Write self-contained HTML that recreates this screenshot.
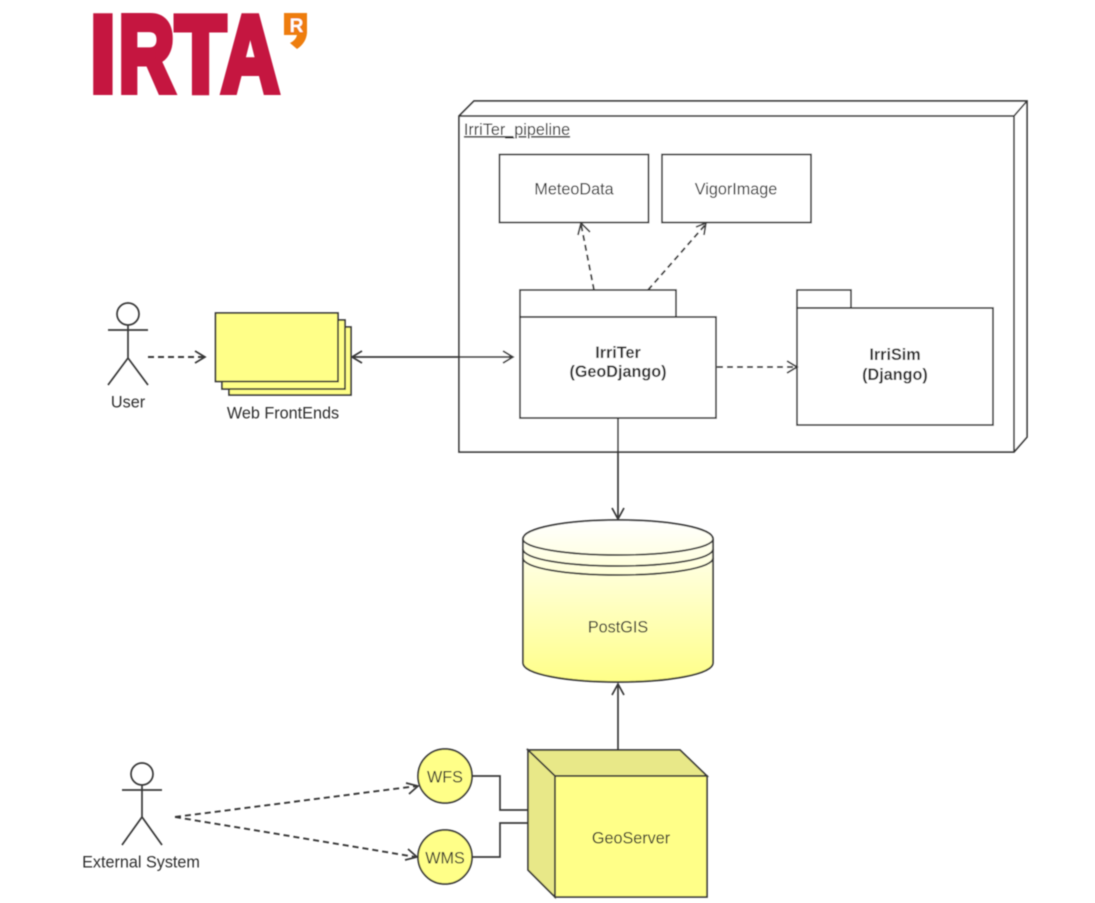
<!DOCTYPE html>
<html><head><meta charset="utf-8"><style>
html,body{margin:0;padding:0;background:#fff}
svg{display:block}
text{font-family:"Liberation Sans",sans-serif;font-size:16.2px;fill:#2e2e2e;text-anchor:middle}
text.logo{font-size:109px;font-weight:bold;fill:#c5143f;stroke:#c5143f;stroke-width:7px;text-anchor:start}
.s{fill:none;stroke:#383838;stroke-width:1.7}
.w{fill:#fff;stroke:#383838;stroke-width:1.7}
.y{fill:#ffff88;stroke:#383838;stroke-width:1.7}
.d{fill:#e8e888;stroke:#383838;stroke-width:1.7}
.dash{fill:none;stroke:#383838;stroke-width:1.9;stroke-dasharray:6 4}
</style></head><body>
<svg width="1095" height="903" viewBox="0 0 1095 903" xmlns="http://www.w3.org/2000/svg">
<defs><linearGradient id="g" x1="0" y1="0" x2="0" y2="1"><stop offset="0" stop-color="#ffffff"/><stop offset="1" stop-color="#ffff88"/></linearGradient>
<filter id="bl"><feGaussianBlur stdDeviation="0.45"/></filter></defs>
<g filter="url(#bl)">
<text class="logo" x="90" y="91.500" textLength="25.800" lengthAdjust="spacingAndGlyphs">I</text>
<text class="logo" x="118.500" y="91.500" textLength="56" lengthAdjust="spacingAndGlyphs">R</text>
<text class="logo" x="175.200" y="91.500" textLength="50.600" lengthAdjust="spacingAndGlyphs">T</text>
<text class="logo" x="221.300" y="91.500" textLength="58" lengthAdjust="spacingAndGlyphs">A</text>
<path d="M284 13H307V33Q306 43 297 49L290 43Q296 40 297 35H284Z" fill="#ee7d11"/>
<text x="296.500" y="32" style="font-size:19px;font-weight:bold;fill:#fff">R</text>
<!-- 3D node -->
<path class="w" d="M459 116L474 101H1027V437L1014 452H459Z"/>
<path class="s" d="M459 116H1014V452M1014 116L1027 101"/>
<text x="517" y="135" text-decoration="underline">IrriTer_pipeline</text>
<rect class="w" x="499.500" y="154.500" width="149" height="68"/>
<text x="574" y="194.500">MeteoData</text>
<rect class="w" x="662" y="154.500" width="149" height="68"/>
<text x="736" y="194.500">VigorImage</text>
<!-- IrriTer -->
<rect class="w" x="520" y="290" width="156" height="27"/>
<rect class="w" x="520" y="317" width="196" height="101"/>
<text x="618" y="358" style="font-weight:bold">IrriTer</text>
<text x="618" y="377" style="font-weight:bold">(GeoDjango)</text>
<!-- IrriSim -->
<rect class="w" x="797" y="290" width="54" height="18"/>
<rect class="w" x="797" y="308" width="196" height="117"/>
<text x="895" y="360" style="font-weight:bold">IrriSim</text>
<text x="895" y="380" style="font-weight:bold">(Django)</text>
<!-- dashed in node -->
<path class="dash" d="M594 290L581 224"/>
<path class="s" d="M578 235L581 223L590 232"/>
<path class="dash" d="M648 290L706 224"/>
<path class="s" d="M696 227L706 223L704 235"/>
<path class="dash" d="M717 367H796"/>
<path class="s" d="M787 361L797 367L787 373"/>
<!-- actor user -->
<circle class="s" cx="128" cy="314" r="11"/>
<path class="s" d="M108 330H148M128 325V358M108 385L128 358L148 385"/>
<text x="128" y="407.500">User</text>
<path class="dash" d="M148 357H204"/>
<path class="s" d="M195 351L205 357L195 363"/>
<!-- Web frontends -->
<rect class="y" x="229" y="327" width="122" height="68"/>
<rect class="y" x="222" y="320" width="123" height="69"/>
<rect class="y" x="215.500" y="313" width="122.500" height="68.500"/>
<text x="283" y="418.500">Web FrontEnds</text>
<path class="s" d="M352 357H512M362 351L352 357L362 363M503 351L513 357L503 363"/>
<!-- Cylinder -->
<path d="M523 539V663C523 674 566 682 618 682C670 682 713 674 713 663V539C713 528 670 520 618 520C566 520 523 528 523 539Z" fill="url(#g)" stroke="#383838" stroke-width="1.7"/>
<path class="s" d="M523 539C523 548 566 555 618 555C670 555 713 548 713 539M523 549C523 559 566 566 618 566C670 566 713 559 713 549M523 558C523 568 566 575 618 575C670 575 713 568 713 558"/>
<text x="618" y="632.500">PostGIS</text>
<path class="s" d="M618 418V518M612 508L618 519L624 508"/>
<path class="s" d="M618 750V684M612 695L618 684L624 695"/>
<!-- GeoServer -->
<path class="d" d="M528 750H680L707 776H555Z"/>
<path class="d" d="M528 750L555 776V897L528 870Z"/>
<rect class="y" x="555" y="776" width="152" height="121"/>
<text x="631" y="843.500">GeoServer</text>
<circle class="y" cx="445" cy="776" r="27"/>
<circle class="y" cx="445" cy="857" r="27"/>
<text x="445" y="782.500">WFS</text>
<text x="445" y="863.500">WMS</text>
<path class="s" d="M472 776H500V810H528M472 857H500V823H528"/>
<!-- external -->
<circle class="s" cx="142" cy="774" r="11"/>
<path class="s" d="M122 790H162M142 785V817M122 845L142 817L162 845"/>
<text x="141" y="867.500">External System</text>
<path class="dash" d="M175 817L417 786"/>
<path class="s" d="M406 783L418 786L409 794"/>
<path class="dash" d="M175 817L416 857"/>
<path class="s" d="M408 849L417 857L405 860"/>
</g>
</svg>
</body></html>
